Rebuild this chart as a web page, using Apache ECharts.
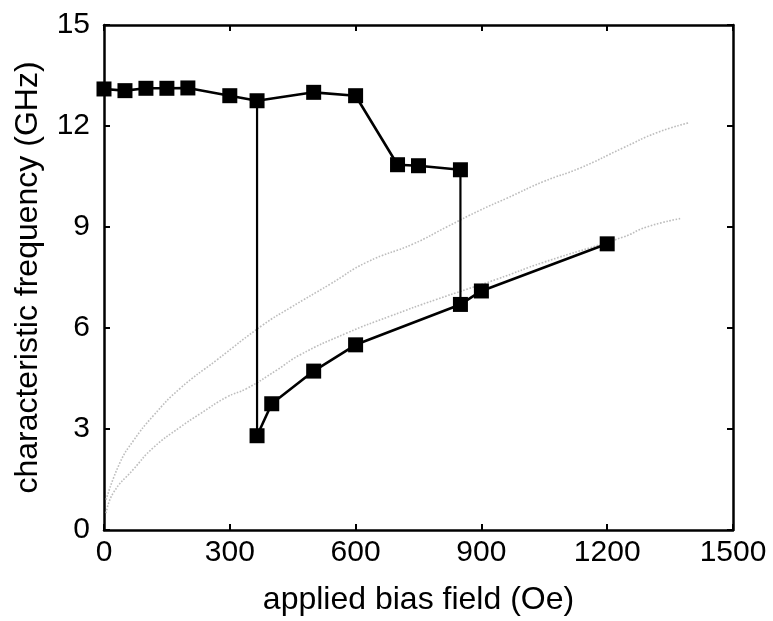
<!DOCTYPE html>
<html>
<head>
<meta charset="utf-8">
<script src="https://cdn.jsdelivr.net/npm/echarts@6/dist/echarts.min.js"></script>
<style>html,body{margin:0;padding:0;background:#fff}#c{width:773px;height:621px}</style>
</head>
<body>
<div id="c"></div>
<script>
// Measured data (applied bias field in Oe, characteristic frequency in GHz)
var upperField = [0, 50, 100, 150, 200, 300, 365, 500, 600, 700, 750, 850];
var upperFreq  = [13.1, 13.05, 13.12, 13.12, 13.13, 12.9, 12.75, 13.0, 12.9, 10.85, 10.82, 10.7];
var lowerField = [365, 400, 500, 600, 850, 900, 1200];
var lowerFreq  = [2.8, 3.75, 4.72, 5.5, 6.7, 7.1, 8.5];

// Gray dotted reference curves
var curveAField = [5, 38, 70, 118, 181, 269, 380, 444, 539, 626, 738, 817, 897, 960, 1048, 1135, 1238, 1318, 1396];
var curveAFreq  = [0.9, 2.0, 2.65, 3.4, 4.2, 5.05, 6.1, 6.6, 7.3, 7.95, 8.5, 9.0, 9.5, 9.85, 10.35, 10.75, 11.35, 11.8, 12.1];
var curveBField = [5, 22, 70, 118, 181, 229, 293, 340, 412, 467, 579, 682, 793, 865, 937, 1048, 1238, 1294, 1374];
var curveBFreq  = [0.5, 1.1, 1.8, 2.45, 3.05, 3.45, 3.95, 4.2, 4.75, 5.2, 5.85, 6.35, 6.85, 7.15, 7.45, 7.95, 8.7, 9.0, 9.25];

var xTicks = [0, 300, 600, 900, 1200, 1500];
var yTicks = [0, 3, 6, 9, 12, 15];

function pairs(xs, ys) { return xs.map(function (x, i) { return [x, ys[i]]; }); }

var FONT = "'Liberation Sans', Arial, Helvetica, sans-serif";
var jumpA = [[upperField[6], upperFreq[6]], [lowerField[0], lowerFreq[0]]];
var jumpB = [[upperField[11], upperFreq[11]], [lowerField[4], lowerFreq[4]]];

function axisBase(extra) {
  var o = {
    type: 'value',
    axisLine: { show: true, onZero: false, lineStyle: { color: '#000', width: 2.5 } },
    axisTick: { show: true, inside: true, length: 6, lineStyle: { color: '#000', width: 2 } },
    splitLine: { show: false },
    axisLabel: { show: false }
  };
  for (var k in extra) o[k] = extra[k];
  return o;
}
function plain(v) { return String(v); }

var chart = echarts.init(document.getElementById('c'), null, { renderer: 'canvas' });
chart.setOption({
  animation: false,
  backgroundColor: '#fff',
  grid: { left: 104, top: 25, right: 40, bottom: 91, containLabel: false },
  xAxis: [
    axisBase({
      min: xTicks[0], max: xTicks[xTicks.length - 1], interval: xTicks[1] - xTicks[0], position: 'bottom',
      axisLabel: { show: true, color: '#000', fontSize: 30, fontFamily: FONT, margin: 8, formatter: plain },
      name: 'applied bias field (Oe)', nameLocation: 'middle', nameGap: 54,
      nameTextStyle: { color: '#000', fontSize: 32, fontFamily: FONT }
    }),
    axisBase({ min: xTicks[0], max: xTicks[xTicks.length - 1], interval: xTicks[1] - xTicks[0], position: 'top' })
  ],
  yAxis: [
    axisBase({
      min: yTicks[0], max: yTicks[yTicks.length - 1], interval: yTicks[1] - yTicks[0], position: 'left',
      axisLabel: { show: true, color: '#000', fontSize: 30, fontFamily: FONT, margin: 14, formatter: plain },
      name: 'characteristic frequency (GHz)', nameLocation: 'middle', nameGap: 60,
      nameTextStyle: { color: '#000', fontSize: 32, fontFamily: FONT }
    }),
    axisBase({ min: yTicks[0], max: yTicks[yTicks.length - 1], interval: yTicks[1] - yTicks[0], position: 'right' })
  ],
  series: [
    { type: 'line', data: pairs(curveAField, curveAFreq), smooth: true, showSymbol: false, symbol: 'none',
      lineStyle: { color: '#bdbdbd', width: 1.6, type: 'dotted' }, z: 1 },
    { type: 'line', data: pairs(curveBField, curveBFreq), smooth: true, showSymbol: false, symbol: 'none',
      lineStyle: { color: '#bdbdbd', width: 1.6, type: 'dotted' }, z: 1 },
    { type: 'line', data: jumpA, symbol: 'none', lineStyle: { color: '#000', width: 2.2 }, z: 3 },
    { type: 'line', data: jumpB, symbol: 'none', lineStyle: { color: '#000', width: 2.2 }, z: 3 },
    { type: 'line', data: pairs(upperField, upperFreq), symbol: 'rect', symbolSize: 15, clip: false,
      lineStyle: { color: '#000', width: 2.6 }, itemStyle: { color: '#000' }, z: 4 },
    { type: 'line', data: pairs(lowerField, lowerFreq), symbol: 'rect', symbolSize: 15, clip: false,
      lineStyle: { color: '#000', width: 2.6 }, itemStyle: { color: '#000' }, z: 4 }
  ]
});
</script>
</body>
</html>
